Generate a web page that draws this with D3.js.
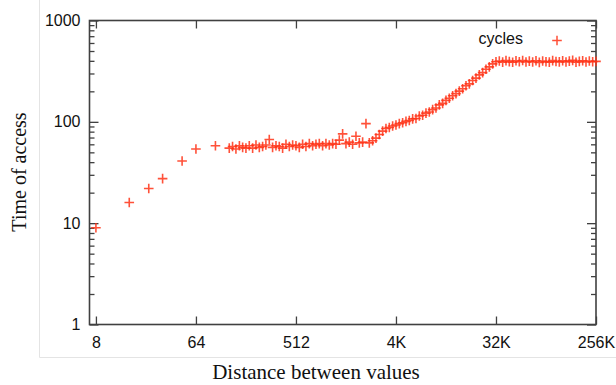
<!DOCTYPE html>
<html><head><meta charset="utf-8">
<script src="https://cdn.jsdelivr.net/npm/d3@7"></script>
<style>
html,body{margin:0;padding:0;background:#fff;}
svg{display:block;}
</style>
</head><body>
<svg id="chart" width="616" height="385"></svg>
<script>
// ---- data ----
const seriesName = "cycles";
const distances = [8,16,24,32,48,64,96,
 128,137,147,158,169,181,194,208,223,239,
 256,274,294,315,338,362,388,416,446,478,
 512,549,588,630,676,724,776,832,891,955,
 1024,1098,1176,1261,1351,1448,1552,1663,1783,1911,
 2048,2195,2353,2521,2702,2896,3104,3327,3566,3822,
 4096,4390,4705,5043,5405,5793,6208,6654,7132,7643,
 8192,8780,9410,10086,10809,11585,12417,13308,14263,15287,
 16384,17560,18820,20171,21619,23170,24834,26616,28526,30574,
 32768,35120,37641,40342,43238,46341,49667,53232,57052,61147,
 65536,70240,75281,80684,86475,92682,99334,106464,114105,122295,
 131072,140479,150562,161369,172951,185364,198668,212927,228210,244589,
 262144];
const cycles = [9,16,22,27.5,41,54,58,
 55,57,54,58,56,55,58,55,59,56,
 57,59,67,56,58,57,55,60,57,59,
 58,56,60,57,61,58,60,61,58,61,
 59,61,60,66,76,61,63,60,72,62,
 63,96,62,65,69,75,81,86,88,91,
 93,96,98,101,103,107,108,114,116,122,
 125,132,137,147,152,163,171,181,190,201,
 212,227,237,256,270,291,306,330,349,373,
 392,398,388,402,393,387,400,392,403,389,
 397,390,401,386,399,392,388,402,394,391,
 400,389,397,404,387,395,401,390,398,392,
 395];
const xTickValues = [8,64,512,4096,32768,262144];
const xTickLabels = ["8","64","512","4K","32K","256K"];
const yTickValues = [1,10,100,1000];
const yTickLabels = ["1","10","100","1000"];
const yMinorTicks = [2,3,4,5,6,7,8,9,20,30,40,50,60,70,80,90,200,300,400,500,600,700,800,900];
const xTitle = "Distance between values";
const yTitle = "Time of access";

// ---- layout ----
const L = 89.5, R = 596, T = 20.5, B = 324.5;
const frameColor = "#404040";
const markColor = "#ff3216";
const svg = d3.select("#chart");

// faint outer border (as in reference)
svg.append("line").attr("x1",39.5).attr("x2",39.5).attr("y1",0).attr("y2",357.5)
  .attr("stroke","#e4e4e4").attr("stroke-width",1);
svg.append("line").attr("x1",39.5).attr("x2",616).attr("y1",357.5).attr("y2",357.5)
  .attr("stroke","#e4e4e4").attr("stroke-width",1);

const x = d3.scaleLog().base(2).domain([7, 262144]).range([L, R]);
const y = d3.scaleLog().domain([1, 1000]).range([B, T]);

const fontSans = "'Liberation Sans', Arial, Helvetica, sans-serif";
const fontSerif = "'Liberation Serif', 'DejaVu Serif', serif";

function styleAxis(g){
  g.select(".domain").remove();
  g.selectAll(".tick line").attr("stroke",frameColor).attr("stroke-width",1.3);
  g.selectAll(".tick text").attr("fill","#111").style("font-family",fontSans).style("font-size","16px");
}

// bottom axis
svg.append("g").attr("transform",`translate(0,${B})`)
  .call(d3.axisBottom(x).tickValues(xTickValues)
    .tickFormat((d,i)=>xTickLabels[i]).tickSizeInner(-8).tickSizeOuter(0).tickPadding(12))
  .call(styleAxis);
// top axis (mirror)
svg.append("g").attr("transform",`translate(0,${T})`)
  .call(d3.axisTop(x).tickValues(xTickValues).tickFormat("").tickSizeInner(-8).tickSizeOuter(0))
  .call(styleAxis);
// left axis major
svg.append("g").attr("transform",`translate(${L},0)`)
  .call(d3.axisLeft(y).tickValues(yTickValues).tickFormat((d,i)=>yTickLabels[i])
    .tickSizeInner(-9).tickSizeOuter(0).tickPadding(9))
  .call(styleAxis);
// left minor
svg.append("g").attr("transform",`translate(${L},0)`)
  .call(d3.axisLeft(y).tickValues(yMinorTicks).tickFormat("").tickSizeInner(-5).tickSizeOuter(0))
  .call(styleAxis);
// right axis major + minor
svg.append("g").attr("transform",`translate(${R},0)`)
  .call(d3.axisRight(y).tickValues(yTickValues).tickFormat("").tickSizeInner(-9).tickSizeOuter(0))
  .call(styleAxis);
svg.append("g").attr("transform",`translate(${R},0)`)
  .call(d3.axisRight(y).tickValues(yMinorTicks).tickFormat("").tickSizeInner(-5).tickSizeOuter(0))
  .call(styleAxis);

// frame
svg.append("rect").attr("x",L).attr("y",T).attr("width",R-L).attr("height",B-T)
  .attr("fill","none").attr("stroke",frameColor).attr("stroke-width",1.6);

// plus markers
const s = 4.8;
const plus = (cx,cy)=>`M${cx-s},${cy}H${cx+s}M${cx},${cy-s}V${cy+s}`;
svg.append("g").selectAll("path").data(distances.map((d,i)=>[d,cycles[i]])).join("path")
  .attr("d",d=>plus(x(d[0]),y(d[1])))
  .attr("stroke",markColor).attr("stroke-width",1.6).attr("fill","none").attr("opacity",0.85);

// legend
svg.append("text").attr("x",523).attr("y",43.5).attr("text-anchor","end")
  .style("font-family",fontSans).style("font-size","16px").attr("fill","#111").text(seriesName);
svg.append("path").attr("d",plus(557,40.5)).attr("stroke",markColor).attr("stroke-width",1.5).attr("opacity",0.85);

// axis titles
svg.append("text").attr("x",316).attr("y",379).attr("text-anchor","middle")
  .style("font-family",fontSerif).style("font-size","21px").attr("fill","#111").text(xTitle);
svg.append("text").attr("transform","translate(26,172) rotate(-90)").attr("text-anchor","middle")
  .style("font-family",fontSerif).style("font-size","20px").attr("fill","#111").text(yTitle);
</script>
</body></html>
